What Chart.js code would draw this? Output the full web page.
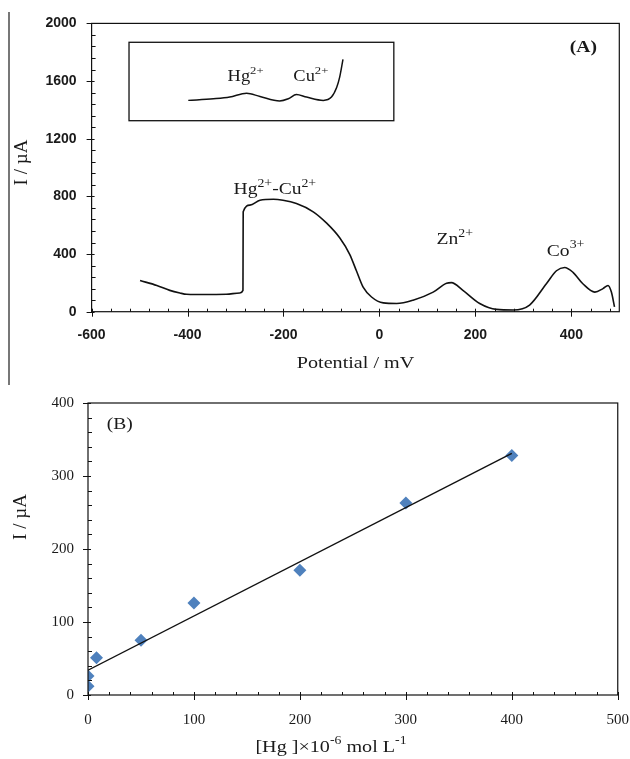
<!DOCTYPE html>
<html>
<head>
<meta charset="utf-8">
<script src="https://cdn.jsdelivr.net/npm/chart.js@4.4.1/dist/chart.umd.min.js"></script>
<style>
  html, body { margin: 0; padding: 0; background: #fff; overflow: hidden; width: 630px; height: 759px; }
  #wrapA { position: absolute; left: 0; top: 0; }
  #wrapB { position: absolute; left: 0; top: 380px; }
  #edge { position: absolute; left: 8px; top: 12px; width: 1.5px; height: 373px; background: #777; }
</style>
</head>
<body>
<div id="edge"></div>
<div id="wrapA"><canvas id="chartA" width="645" height="385"></canvas></div>
<div id="wrapB"><canvas id="chartB" width="645" height="379"></canvas></div>
<script>
// ---- data ----
// (A) voltammogram
const potentialMV = [-499, -464, -437, -416, -402, -360, -319, -291, -284.5, -284, -270, -249, -221, -201, -173, -138, -110, -82.5, -62, -48, -34, -16.5, 8, 36, 70, 112, 140, 150, 174, 209, 244, 279, 313, 348, 369, 386, 403.5, 424, 449, 466, 476.5, 483.5, 490];
const currentUA   = [216, 182, 148, 130, 121, 119, 121, 130, 148, 693, 739, 773, 780, 773, 750, 693, 614, 511, 398, 284, 170, 102, 61, 57, 80, 136, 198, 202, 148, 57, 16, 12, 46, 194, 284, 307, 273, 194, 136, 160, 182, 136, 34];
// inset trace (drawn in panel A units)
const insetMV = [-398.5, -346, -312, -277, -249, -208, -190, -173, -152, -117, -100, -89, -83, -76];
const insetUA = [1466, 1477, 1489, 1516, 1493, 1462, 1477, 1507, 1489, 1466, 1489, 1557, 1625, 1750];
const insetBoxMV = [-522, 30];
const insetBoxUA = [1325, 1869];
const xTicksA = [-600, -400, -200, 0, 200, 400];
const yTicksA = [0, 400, 800, 1200, 1600, 2000];

// (B) calibration
const hgConc    = [0, 0, 8, 50, 100, 200, 300, 400];
const hgCurrent = [12, 26, 51, 75, 126, 171, 263, 328];
const fitConc    = [0, 400];
const fitCurrent = [34, 331];
const xTicksB = [0, 100, 200, 300, 400, 500];
const yTicksB = [0, 100, 200, 300, 400];

// ---- helpers ----
const SERIF = "'Liberation Serif', 'Times New Roman', serif";
const STRETCH = 1.15;
const INK = '#1a1a1a';

function pts(xs, ys) { return xs.map((x, i) => ({ x, y: ys[i] })); }

function drawRich(ctx, parts, x, y, size, o = {}) {
  ctx.save();
  ctx.translate(x, y);
  if (o.rotate) ctx.rotate(-Math.PI / 2);
  ctx.scale(o.stretch ?? STRETCH, 1);
  ctx.fillStyle = INK;
  ctx.textBaseline = 'middle';
  ctx.textAlign = 'left';
  const w = o.weight || 'normal';
  const fontFor = sup => `${w} ${sup ? Math.round(size * 0.68) : size}px ${SERIF}`;
  let total = 0;
  const widths = parts.map(([t, sup]) => {
    ctx.font = fontFor(sup);
    const m = ctx.measureText(t).width;
    total += m;
    return m;
  });
  let cx = -total / 2;
  parts.forEach(([t, sup], i) => {
    ctx.font = fontFor(sup);
    ctx.fillText(t, cx, sup ? -size * 0.36 : 0);
    cx += widths[i];
  });
  ctx.restore();
}

// frame, crossing major ticks, inner minor ticks, boxes and labels
const decor = {
  id: 'decor',
  afterDatasetsDraw(chart, args, o) {
    const { ctx, chartArea: a, scales: { x, y } } = chart;
    ctx.save();
    ctx.strokeStyle = '#111';
    ctx.lineWidth = 1.2;
    ctx.strokeRect(a.left, a.top, a.right - a.left, a.bottom - a.top);

    ctx.lineWidth = 1;
    ctx.beginPath();
    for (let v = x.min; v <= x.max; v += o.xMinor) {
      const px = Math.round(x.getPixelForValue(v)) + 0.5;
      if (o.xMajor.includes(v)) { ctx.moveTo(px, a.bottom - 3); ctx.lineTo(px, a.bottom + 5); }
      else { ctx.moveTo(px, a.bottom); ctx.lineTo(px, a.bottom - 3); }
    }
    for (let v = y.min; v <= y.max; v += o.yMinor) {
      const py = Math.round(y.getPixelForValue(v)) + 0.5;
      if (o.yMajor.includes(v)) { ctx.moveTo(a.left - 5, py); ctx.lineTo(a.left + 3, py); }
      else { ctx.moveTo(a.left, py); ctx.lineTo(a.left + 4, py); }
    }
    ctx.stroke();

    (o.boxes || []).forEach(b => {
      const x0 = x.getPixelForValue(b.xs[0]), x1 = x.getPixelForValue(b.xs[1]);
      const y0 = y.getPixelForValue(b.ys[1]), y1 = y.getPixelForValue(b.ys[0]);
      ctx.lineWidth = 1.3;
      ctx.strokeRect(x0, y0, x1 - x0, y1 - y0);
    });
    ctx.restore();

    (o.labels || []).forEach(l => {
      drawRich(ctx, l.parts, x.getPixelForValue(l.at[0]), y.getPixelForValue(l.at[1]), l.size, l);
    });
    (o.titles || []).forEach(t => drawRich(ctx, t.parts, t.x, t.y, t.size, t));
  }
};

function axis(ticks, min, max, size, font, pad) {
  return {
    type: 'linear', min, max,
    grid: { display: false, drawTicks: false },
    border: { display: false },
    afterBuildTicks: s => { s.ticks = ticks.map(v => ({ value: v })); },
    afterFit: s => { if (s.isHorizontal()) s.height = size; else s.width = size; },
    ticks: { color: INK, font, padding: pad, includeBounds: false, callback: v => String(v) }
  };
}

// ---- panel A ----
new Chart(document.getElementById('chartA'), {
  type: 'scatter',
  data: {
    datasets: [
      { data: pts(potentialMV, currentUA), showLine: true, borderColor: '#111', borderWidth: 1.6,
        pointRadius: 0, cubicInterpolationMode: 'monotone' },
      { data: pts(insetMV, insetUA), showLine: true, borderColor: '#111', borderWidth: 1.5,
        pointRadius: 0, cubicInterpolationMode: 'monotone' }
    ]
  },
  options: {
    responsive: false,
    animation: false,
    layout: { padding: { left: 0, top: 18.3, right: 25.7, bottom: 0 } },
    plugins: {
      legend: { display: false },
      tooltip: { enabled: false },
      decor: {
        xMinor: 40, yMinor: 80, xMajor: xTicksA, yMajor: yTicksA,
        boxes: [{ xs: insetBoxMV, ys: insetBoxUA }],
        labels: [
          { parts: [['Hg'], ['2+', true], ['-Cu'], ['2+', true]], at: [-218, 845], size: 17 },
          { parts: [['Zn'], ['2+', true]], at: [157, 500], size: 17 },
          { parts: [['Co'], ['3+', true]], at: [388, 418], size: 17 },
          { parts: [['(A)']], at: [425, 1830], size: 17, weight: 'bold' },
          { parts: [['Hg'], ['2+', true]], at: [-279, 1631], size: 16 },
          { parts: [['Cu'], ['2+', true]], at: [-143, 1631], size: 16 }
        ],
        titles: [
          { parts: [['Potential / mV']], x: 355.5, y: 363, size: 17.5 },
          { parts: [['I / \u00B5A']], x: 22, y: 162.5, size: 19, rotate: true, stretch: 1 }
        ]
      }
    },
    scales: {
      x: axis(xTicksA, -600, 500, 73.3, { family: 'Liberation Sans', size: 14, weight: 'bold' }, 15),
      y: axis(yTicksA, 0, 2000, 91.6, { family: 'Liberation Sans', size: 14, weight: 'bold' }, 15)
    }
  },
  plugins: [decor]
});

// ---- panel B ----
new Chart(document.getElementById('chartB'), {
  type: 'scatter',
  data: {
    datasets: [
      { data: pts(fitConc, fitCurrent), showLine: true, borderColor: '#111', borderWidth: 1.4,
        pointRadius: 0, order: 0 },
      { data: pts(hgConc, hgCurrent), pointStyle: 'rectRot', pointRadius: 6.5,
        backgroundColor: '#4f81bd', borderColor: '#4f81bd', borderWidth: 0, order: 1 }
    ]
  },
  options: {
    responsive: false,
    animation: false,
    layout: { padding: { left: 0, top: 12.7, right: 26.4, bottom: 0 } },
    plugins: {
      legend: { display: false },
      tooltip: { enabled: false },
      decor: {
        xMinor: 20, yMinor: 20, xMajor: xTicksB, yMajor: yTicksB,
        labels: [
          { parts: [['(B)']], at: [30, 370], size: 17 }
        ],
        titles: [
          { parts: [['[Hg ]\u00D710'], ['-6', true], [' mol L'], ['-1', true]], x: 331, y: 367, size: 17.5 },
          { parts: [['I / \u00B5A']], x: 21, y: 137, size: 19, rotate: true, stretch: 1 }
        ]
      }
    },
    scales: {
      x: axis(xTicksB, 0, 500, 64, { family: 'Liberation Serif', size: 15 }, 16),
      y: axis(yTicksB, 0, 400, 88, { family: 'Liberation Serif', size: 15 }, 14)
    }
  },
  plugins: [decor]
});
</script>
</body>
</html>
